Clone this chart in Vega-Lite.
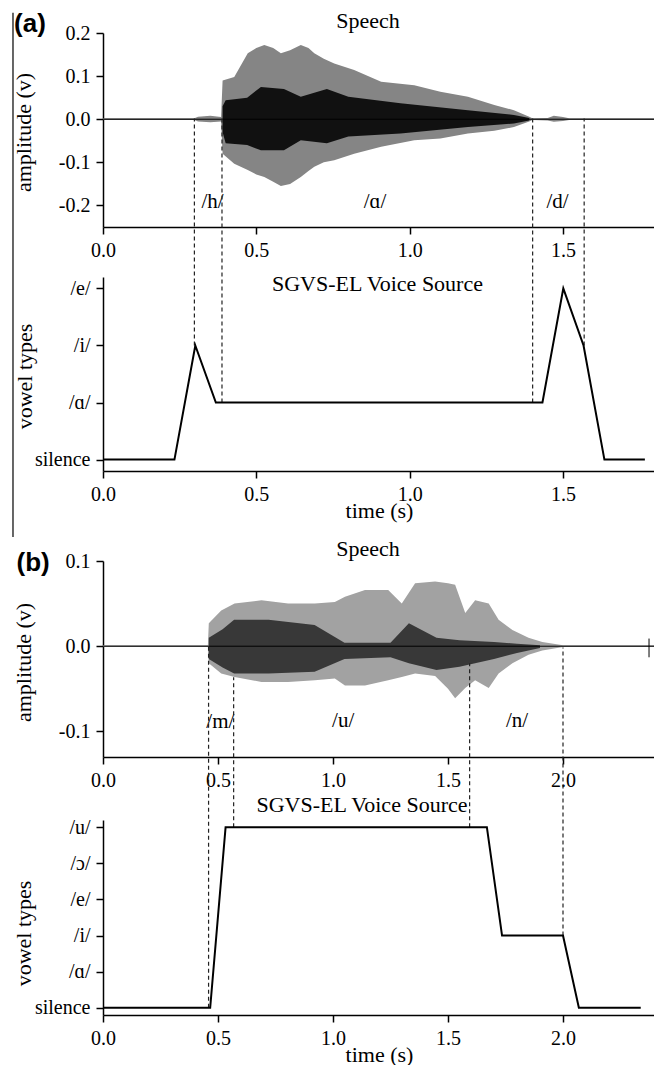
{
  "$schema": "https://vega.github.io/schema/vega-lite/v6.json",
  "autosize": {"type": "pad"},
  "padding": {"left": 11, "top": 9, "right": 0, "bottom": 0},
  "background": "white",
  "spacing": 0,
  "bounds": "flush",
  "config": {
    "view": {"stroke": null},
    "axis": {
      "domainColor": "#000", "domainWidth": 1.5, "tickColor": "#000", "tickWidth": 1.5, "tickSize": 7,
      "labelFont": "Liberation Serif, DejaVu Serif", "labelFontSize": 20, "labelColor": "#000",
      "titleFont": "Liberation Serif, DejaVu Serif", "titleFontSize": 22, "titleFontWeight": "normal", "titleColor": "#000",
      "grid": false, "labelPadding": 6, "labelFlush": false, "labelOverlap": false, "tickCount": 20
    }
  },
  "datasets": {
    "outerA": [
      {"t": 0, "hi": 0.002, "lo": -0.002}, {"t": 0.298, "hi": 0.002, "lo": -0.002}, {"t": 0.31, "hi": 0.006, "lo": -0.005},
      {"t": 0.35, "hi": 0.008, "lo": -0.007}, {"t": 0.385, "hi": 0.005, "lo": -0.005}, {"t": 0.39, "hi": 0.09, "lo": -0.08},
      {"t": 0.428, "hi": 0.098, "lo": -0.103}, {"t": 0.472, "hi": 0.153, "lo": -0.118}, {"t": 0.5, "hi": 0.165, "lo": -0.128},
      {"t": 0.526, "hi": 0.172, "lo": -0.134}, {"t": 0.555, "hi": 0.165, "lo": -0.145}, {"t": 0.58, "hi": 0.153, "lo": -0.155},
      {"t": 0.61, "hi": 0.16, "lo": -0.15}, {"t": 0.645, "hi": 0.172, "lo": -0.134}, {"t": 0.67, "hi": 0.165, "lo": -0.12},
      {"t": 0.689, "hi": 0.153, "lo": -0.11}, {"t": 0.72, "hi": 0.14, "lo": -0.1}, {"t": 0.754, "hi": 0.129, "lo": -0.095},
      {"t": 0.819, "hi": 0.114, "lo": -0.08}, {"t": 0.907, "hi": 0.087, "lo": -0.064}, {"t": 1.015, "hi": 0.079, "lo": -0.049},
      {"t": 1.1, "hi": 0.064, "lo": -0.045}, {"t": 1.19, "hi": 0.052, "lo": -0.033}, {"t": 1.276, "hi": 0.033, "lo": -0.027},
      {"t": 1.34, "hi": 0.021, "lo": -0.018}, {"t": 1.39, "hi": 0.006, "lo": -0.005}, {"t": 1.4, "hi": 0.002, "lo": -0.002},
      {"t": 1.45, "hi": 0.003, "lo": -0.003}, {"t": 1.47, "hi": 0.008, "lo": -0.006}, {"t": 1.5, "hi": 0.005, "lo": -0.004},
      {"t": 1.52, "hi": 0.002, "lo": -0.002}, {"t": 1.8, "hi": 0.002, "lo": -0.002}
    ],
    "innerA": [
      {"t": 0.39, "hi": 0.03, "lo": -0.03}, {"t": 0.4, "hi": 0.044, "lo": -0.056}, {"t": 0.47, "hi": 0.05, "lo": -0.06},
      {"t": 0.515, "hi": 0.075, "lo": -0.072}, {"t": 0.59, "hi": 0.07, "lo": -0.072}, {"t": 0.645, "hi": 0.052, "lo": -0.049},
      {"t": 0.73, "hi": 0.07, "lo": -0.056}, {"t": 0.8, "hi": 0.052, "lo": -0.04}, {"t": 0.97, "hi": 0.037, "lo": -0.033},
      {"t": 1.19, "hi": 0.021, "lo": -0.018}, {"t": 1.34, "hi": 0.01, "lo": -0.01}, {"t": 1.39, "hi": 0.003, "lo": -0.003}
    ],
    "outerB": [
      {"t": 0, "hi": 0.001, "lo": -0.001}, {"t": 0.456, "hi": 0.001, "lo": -0.001}, {"t": 0.46, "hi": 0.027, "lo": -0.02},
      {"t": 0.514, "hi": 0.042, "lo": -0.032}, {"t": 0.572, "hi": 0.05, "lo": -0.036}, {"t": 0.689, "hi": 0.054, "lo": -0.042},
      {"t": 0.805, "hi": 0.05, "lo": -0.042}, {"t": 0.921, "hi": 0.05, "lo": -0.04}, {"t": 1.008, "hi": 0.052, "lo": -0.038},
      {"t": 1.052, "hi": 0.058, "lo": -0.046}, {"t": 1.139, "hi": 0.066, "lo": -0.046}, {"t": 1.24, "hi": 0.066, "lo": -0.04},
      {"t": 1.299, "hi": 0.05, "lo": -0.036}, {"t": 1.357, "hi": 0.074, "lo": -0.032}, {"t": 1.444, "hi": 0.076, "lo": -0.035},
      {"t": 1.5, "hi": 0.074, "lo": -0.05}, {"t": 1.531, "hi": 0.072, "lo": -0.061}, {"t": 1.575, "hi": 0.039, "lo": -0.049},
      {"t": 1.618, "hi": 0.054, "lo": -0.04}, {"t": 1.677, "hi": 0.05, "lo": -0.049}, {"t": 1.72, "hi": 0.031, "lo": -0.032},
      {"t": 1.78, "hi": 0.019, "lo": -0.02}, {"t": 1.85, "hi": 0.01, "lo": -0.01}, {"t": 1.91, "hi": 0.005, "lo": -0.005},
      {"t": 2.0, "hi": 0.001, "lo": -0.001}, {"t": 2.4, "hi": 0.001, "lo": -0.001}
    ],
    "innerB": [
      {"t": 0.46, "hi": 0.01, "lo": -0.015}, {"t": 0.52, "hi": 0.02, "lo": -0.025}, {"t": 0.57, "hi": 0.031, "lo": -0.032},
      {"t": 0.72, "hi": 0.031, "lo": -0.032}, {"t": 0.92, "hi": 0.025, "lo": -0.03}, {"t": 1.05, "hi": 0.004, "lo": -0.015},
      {"t": 1.25, "hi": 0.004, "lo": -0.013}, {"t": 1.33, "hi": 0.027, "lo": -0.02}, {"t": 1.45, "hi": 0.01, "lo": -0.028},
      {"t": 1.55, "hi": 0.007, "lo": -0.024}, {"t": 1.7, "hi": 0.005, "lo": -0.015}, {"t": 1.8, "hi": 0.003, "lo": -0.008},
      {"t": 1.9, "hi": 0.001, "lo": -0.002}
    ],
    "zeroA": [{"t": 0, "v": 0}, {"t": 1.8, "v": 0}],
    "zeroB": [{"t": 0, "v": 0}, {"t": 2.4, "v": 0}],
    "vowelA": [
      {"t": 0, "v": 0}, {"t": 0.233, "v": 0}, {"t": 0.301, "v": 2}, {"t": 0.368, "v": 1}, {"t": 1.433, "v": 1},
      {"t": 1.501, "v": 3}, {"t": 1.567, "v": 2}, {"t": 1.635, "v": 0}, {"t": 1.767, "v": 0}
    ],
    "vowelB": [
      {"t": 0, "v": 0}, {"t": 0.466, "v": 0}, {"t": 0.533, "v": 5}, {"t": 1.669, "v": 5}, {"t": 1.735, "v": 2},
      {"t": 2.0, "v": 2}, {"t": 2.069, "v": 0}, {"t": 2.338, "v": 0}
    ],
    "dashA": [
      {"t": 0.298, "lo": 2, "hi": 5.98}, {"t": 0.388, "lo": 1, "hi": 5.98}, {"t": 1.401, "lo": 1, "hi": 5.98}, {"t": 1.569, "lo": 2, "hi": 5.98}
    ],
    "dashB": [
      {"t": 0.459, "lo": 0, "hi": 10.0}, {"t": 0.568, "lo": 5, "hi": 9.15}, {"t": 1.594, "lo": 5, "hi": 9.54}, {"t": 2.0, "lo": 2, "hi": 9.98}
    ],
    "labelsA": [
      {"t": 0.357, "v": -0.206, "label": "/h/"}, {"t": 0.887, "v": -0.206, "label": "/ɑ/"}, {"t": 1.482, "v": -0.206, "label": "/d/"}
    ],
    "labelsB": [
      {"t": 0.51, "v": -0.0965, "label": "/m/"}, {"t": 1.044, "v": -0.095, "label": "/u/"}, {"t": 1.8, "v": -0.095, "label": "/n/"}
    ],
    "titleA1": [{"t": 0.864, "v": 0.2123, "label": "Speech"}],
    "titleA2": [{"t": 0.895, "v": 2.953, "label": "SGVS-EL Voice Source"}],
    "titleB1": [{"t": 1.152, "v": 0.1059, "label": "Speech"}],
    "titleB2": [{"t": 1.126, "v": 5.415, "label": "SGVS-EL Voice Source"}],
    "tagA": [{"t": -0.238, "v": 0.2215, "label": "(a)"}],
    "tagB": [{"t": -0.304, "v": 0.0976, "label": "(b)"}],
    "frameA": [{"t": -0.2935, "lo": -0.969, "hi": 0.247}],
    "tickB": [{"t": 2.374, "lo": -0.013, "hi": 0.009}]
  },
  "vconcat": [
    {
      "width": 552, "height": 194,
      "layer": [
        {
          "data": {"name": "outerA"},
          "mark": {"type": "area", "color": "#858585"},
          "encoding": {
            "x": {"field": "t", "type": "quantitative", "scale": {"domain": [0, 1.8], "nice": false, "zero": false},
                  "axis": {"values": [0, 0.5, 1, 1.5], "labelExpr": "format(datum.value, '.1f')", "title": null}},
            "y": {"field": "lo", "type": "quantitative", "scale": {"domain": [-0.25, 0.2], "nice": false, "zero": false},
                  "axis": {"values": [-0.2, -0.1, 0, 0.1, 0.2], "labelExpr": "datum.value < 0 ? '-' + format(-datum.value, '.1f') : format(datum.value, '.1f')",
                           "title": "amplitude (v)", "titleX": -73, "titleY": 99, "titleBaseline": "alphabetic"}},
            "y2": {"field": "hi"}
          }
        },
        {
          "data": {"name": "innerA"},
          "mark": {"type": "area", "color": "#111111"},
          "encoding": {"x": {"field": "t", "type": "quantitative"}, "y": {"field": "lo", "type": "quantitative"}, "y2": {"field": "hi"}}
        },
        {
          "data": {"name": "zeroA"},
          "mark": {"type": "line", "color": "#000", "strokeWidth": 1},
          "encoding": {"x": {"field": "t", "type": "quantitative"}, "y": {"field": "v", "type": "quantitative"}}
        },
        {
          "data": {"name": "labelsA"},
          "mark": {"type": "text", "font": "Liberation Serif, DejaVu Serif", "fontSize": 21, "color": "#000", "baseline": "alphabetic", "align": "center"},
          "encoding": {"x": {"field": "t", "type": "quantitative"}, "y": {"field": "v", "type": "quantitative"}, "text": {"field": "label"}}
        },
        {
          "data": {"name": "titleA1"},
          "mark": {"type": "text", "font": "Liberation Serif, DejaVu Serif", "fontSize": 22, "color": "#000", "baseline": "alphabetic", "align": "center", "clip": false},
          "encoding": {"x": {"field": "t", "type": "quantitative"}, "y": {"field": "v", "type": "quantitative"}, "text": {"field": "label"}}
        },
        {
          "data": {"name": "tagA"},
          "mark": {"type": "text", "font": "Liberation Sans, Arial", "fontWeight": "bold", "fontSize": 26, "color": "#000", "baseline": "middle", "align": "center", "clip": false},
          "encoding": {"x": {"field": "t", "type": "quantitative"}, "y": {"field": "v", "type": "quantitative"}, "text": {"field": "label"}}
        },
        {
          "data": {"name": "frameA"},
          "mark": {"type": "rule", "color": "#000", "strokeWidth": 1.2, "clip": false},
          "encoding": {"x": {"field": "t", "type": "quantitative"}, "y": {"field": "lo", "type": "quantitative"}, "y2": {"field": "hi"}}
        }
      ]
    },
    {"width": 552, "height": 50, "data": {"values": []}, "mark": "point", "encoding": {}},
    {
      "width": 552, "height": 194,
      "layer": [
        {
          "data": {"name": "dashA"},
          "mark": {"type": "rule", "color": "#222", "strokeWidth": 1.2, "strokeDash": [4, 3], "clip": false},
          "encoding": {
            "x": {"field": "t", "type": "quantitative", "scale": {"domain": [0, 1.8], "nice": false, "zero": false},
                  "axis": {"values": [0, 0.5, 1, 1.5], "labelExpr": "format(datum.value, '.1f')", "title": "time (s)", "titleX": 276, "titleY": 46, "titleBaseline": "alphabetic"}},
            "y": {"field": "lo", "type": "quantitative", "scale": {"domain": [-0.2, 3.2], "nice": false, "zero": false},
                  "axis": {"values": [0, 1, 2, 3], "labelExpr": "['silence', '/ɑ/', '/i/', '/e/'][datum.value]",
                           "title": "vowel types", "titleX": -72, "titleY": 99, "titleBaseline": "alphabetic"}},
            "y2": {"field": "hi"}
          }
        },
        {
          "data": {"name": "vowelA"},
          "mark": {"type": "line", "color": "#000", "strokeWidth": 2},
          "encoding": {"x": {"field": "t", "type": "quantitative"}, "y": {"field": "v", "type": "quantitative"}}
        },
        {
          "data": {"name": "titleA2"},
          "mark": {"type": "text", "font": "Liberation Serif, DejaVu Serif", "fontSize": 22, "color": "#000", "baseline": "alphabetic", "align": "center"},
          "encoding": {"x": {"field": "t", "type": "quantitative"}, "y": {"field": "v", "type": "quantitative"}, "text": {"field": "label"}}
        }
      ]
    },
    {"width": 552, "height": 90, "data": {"values": []}, "mark": "point", "encoding": {}},
    {
      "width": 552, "height": 196,
      "layer": [
        {
          "data": {"name": "outerB"},
          "mark": {"type": "area", "color": "#a2a2a2"},
          "encoding": {
            "x": {"field": "t", "type": "quantitative", "scale": {"domain": [0, 2.4], "nice": false, "zero": false},
                  "axis": {"values": [0, 0.5, 1, 1.5, 2], "labelExpr": "format(datum.value, '.1f')", "title": null}},
            "y": {"field": "lo", "type": "quantitative", "scale": {"domain": [-0.13, 0.1], "nice": false, "zero": false},
                  "axis": {"values": [-0.1, 0, 0.1], "labelExpr": "datum.value < 0 ? '-' + format(-datum.value, '.1f') : format(datum.value, '.1f')",
                           "title": "amplitude (v)", "titleX": -73, "titleY": 101, "titleBaseline": "alphabetic"}},
            "y2": {"field": "hi"}
          }
        },
        {
          "data": {"name": "innerB"},
          "mark": {"type": "area", "color": "#383838"},
          "encoding": {"x": {"field": "t", "type": "quantitative"}, "y": {"field": "lo", "type": "quantitative"}, "y2": {"field": "hi"}}
        },
        {
          "data": {"name": "zeroB"},
          "mark": {"type": "line", "color": "#000", "strokeWidth": 1},
          "encoding": {"x": {"field": "t", "type": "quantitative"}, "y": {"field": "v", "type": "quantitative"}}
        },
        {
          "data": {"name": "tickB"},
          "mark": {"type": "rule", "color": "#000", "strokeWidth": 1},
          "encoding": {"x": {"field": "t", "type": "quantitative"}, "y": {"field": "lo", "type": "quantitative"}, "y2": {"field": "hi"}}
        },
        {
          "data": {"name": "labelsB"},
          "mark": {"type": "text", "font": "Liberation Serif, DejaVu Serif", "fontSize": 21, "color": "#000", "baseline": "alphabetic", "align": "center"},
          "encoding": {"x": {"field": "t", "type": "quantitative"}, "y": {"field": "v", "type": "quantitative"}, "text": {"field": "label"}}
        },
        {
          "data": {"name": "titleB1"},
          "mark": {"type": "text", "font": "Liberation Serif, DejaVu Serif", "fontSize": 22, "color": "#000", "baseline": "alphabetic", "align": "center", "clip": false},
          "encoding": {"x": {"field": "t", "type": "quantitative"}, "y": {"field": "v", "type": "quantitative"}, "text": {"field": "label"}}
        },
        {
          "data": {"name": "tagB"},
          "mark": {"type": "text", "font": "Liberation Sans, Arial", "fontWeight": "bold", "fontSize": 26, "color": "#000", "baseline": "middle", "align": "center", "clip": false},
          "encoding": {"x": {"field": "t", "type": "quantitative"}, "y": {"field": "v", "type": "quantitative"}, "text": {"field": "label"}}
        }
      ]
    },
    {"width": 552, "height": 63, "data": {"values": []}, "mark": "point", "encoding": {}},
    {
      "width": 552, "height": 195,
      "layer": [
        {
          "data": {"name": "dashB"},
          "mark": {"type": "rule", "color": "#222", "strokeWidth": 1.2, "strokeDash": [4, 3], "clip": false},
          "encoding": {
            "x": {"field": "t", "type": "quantitative", "scale": {"domain": [0, 2.4], "nice": false, "zero": false},
                  "axis": {"values": [0, 0.5, 1, 1.5, 2], "labelExpr": "format(datum.value, '.1f')", "title": "time (s)", "titleX": 276, "titleY": 46, "titleBaseline": "alphabetic"}},
            "y": {"field": "lo", "type": "quantitative", "scale": {"domain": [-0.2, 5.2], "nice": false, "zero": false},
                  "axis": {"values": [0, 1, 2, 3, 4, 5], "tickCount": 20, "labelExpr": "['silence', '/ɑ/', '/i/', '/e/', '/ɔ/', '/u/'][datum.value]",
                           "title": "vowel types", "titleX": -73, "titleY": 113, "titleBaseline": "alphabetic"}},
            "y2": {"field": "hi"}
          }
        },
        {
          "data": {"name": "vowelB"},
          "mark": {"type": "line", "color": "#000", "strokeWidth": 2},
          "encoding": {"x": {"field": "t", "type": "quantitative"}, "y": {"field": "v", "type": "quantitative"}}
        },
        {
          "data": {"name": "titleB2"},
          "mark": {"type": "text", "font": "Liberation Serif, DejaVu Serif", "fontSize": 22, "color": "#000", "baseline": "alphabetic", "align": "center", "clip": false},
          "encoding": {"x": {"field": "t", "type": "quantitative"}, "y": {"field": "v", "type": "quantitative"}, "text": {"field": "label"}}
        }
      ]
    }
  ]
}
